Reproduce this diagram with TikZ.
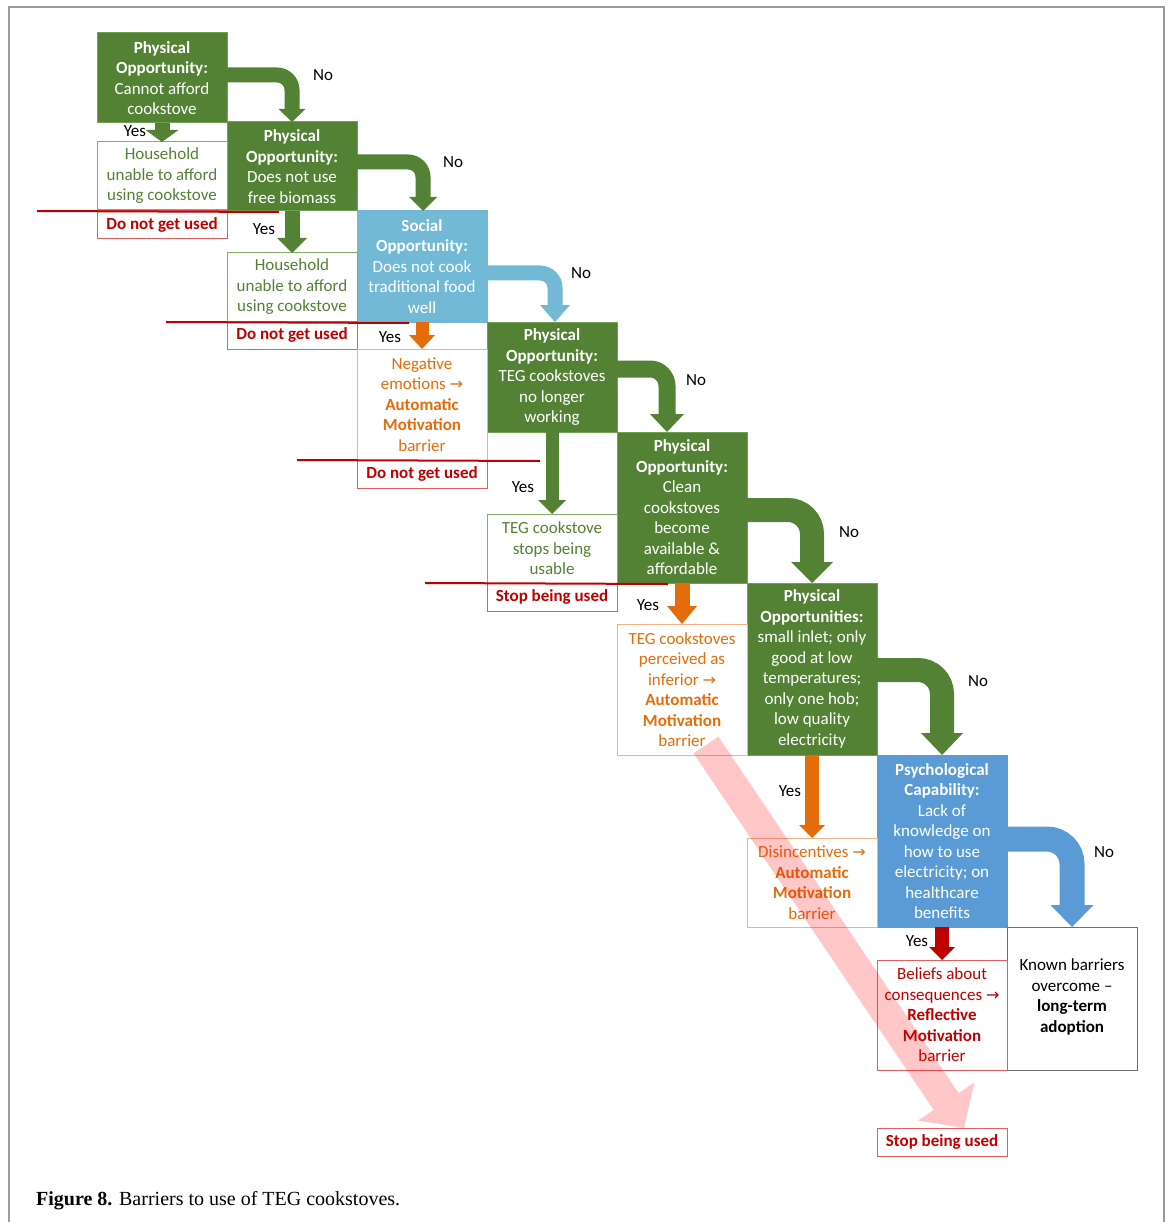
\documentclass[tikz,border=0pt]{standalone}
\usepackage{fontspec}
\setmainfont{Carlito}
\newfontfamily\capfont{Liberation Serif}
\newfontfamily\arrfont{DejaVu Sans}
\usetikzlibrary{calc}
\definecolor{dgreen}{RGB}{84,130,53}
\definecolor{gborder}{RGB}{112,160,80}
\definecolor{lgborder}{RGB}{130,175,100}
\definecolor{lblue}{RGB}{114,185,214}
\definecolor{mblue}{RGB}{91,155,213}
\definecolor{orng}{RGB}{228,108,10}
\definecolor{lorng}{RGB}{244,177,131}
\definecolor{dred}{RGB}{192,0,0}
\definecolor{rborder}{RGB}{225,95,95}
\definecolor{kborder}{RGB}{110,110,110}
\definecolor{frame}{RGB}{155,155,155}
\newcommand{\ra}{{\arrfont\fontsize{16}{16}\selectfont →}}
% color, shaft width, source, y offset below source top, target, head half width, head length, target x shift
\newcommand{\noarrow}[8]{%
  \draw[#1, line width=#2pt, rounded corners=#2pt] ([yshift=-#4pt]#3.north east) -| ([xshift=#8pt,yshift=#7pt]#5.north);
  \fill[#1] ([xshift=#8pt]#5.north) -- ++(-#6,-#7) -- ++({2*#6},0) -- cycle;}
\newcommand{\yesarrow}[6]{%
  \draw[#1, line width=#2pt] (#3.south) -- ([yshift=#6pt]#4.north);
  \fill[#1] (#4.north) -- ++(-#5,-#6) -- ++({2*#5},0) -- cycle;}
\tikzset{
  every node/.style={font=\fontsize{17}{20.5}\selectfont},
  box/.style={minimum width=130pt, inner sep=0pt, outer sep=0pt, align=center, line width=1pt},
  gbox/.style={box, fill=dgreen, draw=gborder, text=white},
  lbbox/.style={box, fill=lblue, draw=lblue, text=white},
  mbbox/.style={box, fill=mblue, draw=mblue, text=white},
  gout/.style={box, fill=white, draw=lgborder, text=dgreen},
  oout/.style={box, fill=white, draw=lorng, text=orng},
  rout/.style={box, fill=white, draw=rborder, text=dred},
  kout/.style={box, fill=white, draw=kborder, text=black},
  dbox/.style={box, fill=white, draw=rborder, text=dred, font=\fontsize{17}{20.5}\selectfont\bfseries, minimum height=28pt},
  strike/.style={draw=dred, line width=2pt},
  lbl/.style={text=black, inner sep=0pt}
}
\begin{document}
\begin{tikzpicture}[x=1pt,y=-1pt]
\useasboundingbox (0,0) rectangle (1171,1222);
\fill[white] (0,0) rectangle (1171,1222);
\draw[frame, line width=2pt] (9,1222) -- (9,7) -- (1164,7) -- (1164,1222);

% decision boxes
\node[gbox, minimum height=90pt] (b1) at (162,78) {\textbf{Physical}\\\textbf{Opportunity:}\\Cannot afford\\cookstove};
\node[gbox, minimum height=89pt] (b2) at (292,166.5) {\textbf{Physical}\\\textbf{Opportunity:}\\Does not use\\free biomass};
\node[lbbox, minimum height=111pt] (b3) at (422,266.5) {\textbf{Social}\\\textbf{Opportunity:}\\Does not cook\\traditional food\\well};
\node[gbox, minimum height=110pt] (b4) at (552,377) {\textbf{Physical}\\\textbf{Opportunity:}\\TEG cookstoves\\no longer\\working};
\node[gbox, minimum height=151pt] (b5) at (682,507.5) {\textbf{Physical}\\\textbf{Opportunity:}\\Clean\\cookstoves\\become\\available \&\\affordable};
\node[gbox, minimum height=172pt] (b6) at (812,669) {\textbf{Physical}\\\textbf{Opportunities:}\\small inlet; only\\good at low\\temperatures;\\only one hob;\\low quality\\electricity};
\node[mbbox, minimum height=172pt] (b7) at (942,841) {\textbf{Psychological}\\\textbf{Capability:}\\Lack of\\knowledge on\\how to use\\electricity; on\\healthcare\\benefits};
\node[kout, minimum height=143pt] (k) at (1072,998.5) {Known barriers\\overcome –\\\textbf{long-term}\\\textbf{adoption}\\[-14.5pt]};

% outcome boxes
\node[gout, minimum height=68pt] (o1) at (162,176) {Household\\unable to afford\\using cookstove};
\node[dbox] (d1) at (162,224.5) {Do not get used};
\node[gout, minimum height=68pt] (o2) at (292,287) {Household\\unable to afford\\using cookstove};
\node[dbox] (d2) at (292,335) {Do not get used};
\node[oout, minimum height=111pt] (o3) at (422,404.5) {Negative\\emotions \ra\\\textbf{Automatic}\\\textbf{Motivation}\\barrier};
\node[dbox] (d3) at (422,474) {Do not get used};
\node[gout, minimum height=69pt] (o4) at (552,548.5) {TEG cookstove\\stops being\\usable};
\node[dbox] (d4) at (552,597) {Stop being used};
\node[oout, minimum height=131pt] (o5) at (682,689.5) {TEG cookstoves\\perceived as\\inferior \ra\\\textbf{Automatic}\\\textbf{Motivation}\\barrier};
\node[oout, minimum height=89pt] (o6) at (812,882.5) {Disincentives \ra\\\textbf{Automatic}\\\textbf{Motivation}\\barrier};
\node[rout, minimum height=110pt] (o7) at (942,1015) {Beliefs about\\consequences \ra\\\textbf{Reflective}\\\textbf{Motivation}\\barrier};
\node[dbox] (d7) at (942,1142) {Stop being used};

% strike lines
\draw[strike] (37,211) -- (279,212);
\draw[strike] (166,322) -- (409,323);
\draw[strike] (297,460) -- (540,461);
\draw[strike] (425,583) -- (668,584);

% "No" arrows
\noarrow{dgreen}{15}{b1}{42}{b2}{13.5}{13}{0}
\noarrow{dgreen}{15}{b2}{40}{b3}{14}{14}{1}
\noarrow{lblue}{15}{b3}{62}{b4}{15}{17}{3}
\noarrow{dgreen}{17}{b4}{47}{b5}{17}{18}{-15}
\noarrow{dgreen}{24}{b5}{78}{b6}{21}{21}{0}
\noarrow{dgreen}{24}{b6}{87}{b7}{21}{22}{0}
\noarrow{mblue}{25}{b7}{84}{k}{21.5}{22}{0}

% "Yes" arrows
\yesarrow{dgreen}{15}{b1}{o1}{16.5}{12}
\yesarrow{dgreen}{15}{b2}{o2}{15}{15}
\yesarrow{orng}{13}{b3}{o3}{13}{14}
\yesarrow{dgreen}{13}{b4}{o4}{14}{14}
\yesarrow{orng}{15}{b5}{o5}{15}{18}
\yesarrow{orng}{14}{b6}{o6}{13}{13}
\yesarrow{dred}{14}{b7}{o7}{13}{13}

% big translucent arrow
\fill[red, fill opacity=0.22] (693.6,753.4) -- (933.7,1109.9) -- (917.9,1120.5) -- (964,1128) -- (974.3,1082.5) -- (958.5,1093.1) -- (718.4,736.6) -- cycle;

% labels
\node[lbl] (n1) at (323,75) {No};
\node[lbl] (n2) at (453,162) {No};
\node[lbl] (n3) at (581,273) {No};
\node[lbl] (n4) at (696,380) {No};
\node[lbl] (n5) at (849,532) {No};
\node[lbl] (n6) at (978,681) {No};
\node[lbl] (n7) at (1104,852) {No};
\node[lbl] (y1) at (135,131) {Yes};
\node[lbl] (y2) at (264,229) {Yes};
\node[lbl] (y3) at (390,337) {Yes};
\node[lbl] (y4) at (523,487) {Yes};
\node[lbl] (y5) at (648,605) {Yes};
\node[lbl] (y6) at (790,791) {Yes};
\node[lbl] (y7) at (917,941) {Yes};

% caption
\node[anchor=base west, inner sep=0pt, font=\capfont\fontsize{20}{23}\selectfont] (cap) at (36,1205) {\textbf{Figure 8.} Barriers to use of TEG cookstoves.};
\end{tikzpicture}
\end{document}
